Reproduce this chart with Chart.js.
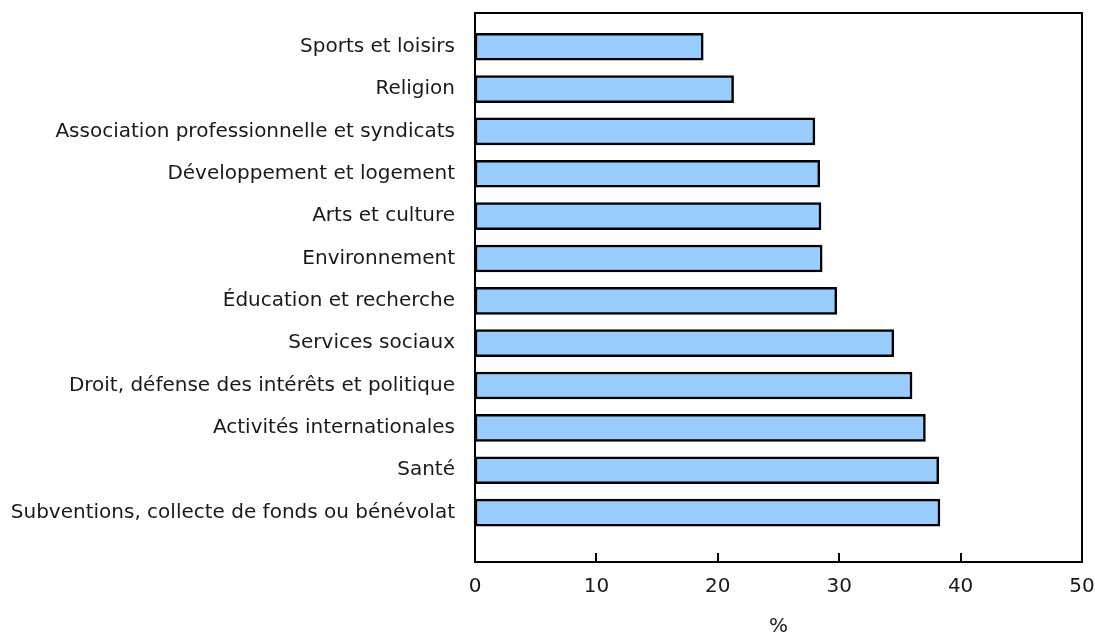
<!DOCTYPE html>
<html>
<head>
<meta charset="utf-8">
<script src="https://cdn.jsdelivr.net/npm/chart.js@4.4.1/dist/chart.umd.min.js"></script>
<style>
  html, body { margin: 0; padding: 0; background: #ffffff; }
  #wrap { width: 1095px; height: 632px; position: relative; }
</style>
</head>
<body>
<div id="wrap"><canvas id="c" width="1095" height="632"></canvas></div>
<script>
const categories = [
  "Sports et loisirs",
  "Religion",
  "Association professionnelle et syndicats",
  "Développement et logement",
  "Arts et culture",
  "Environnement",
  "Éducation et recherche",
  "Services sociaux",
  "Droit, défense des intérêts et politique",
  "Activités internationales",
  "Santé",
  "Subventions, collecte de fonds ou bénévolat"
];
const values = [18.8, 21.3, 28.0, 28.4, 28.5, 28.6, 29.8, 34.5, 36.0, 37.1, 38.2, 38.3];
const xTicks = [0, 10, 20, 30, 40, 50];
const xTitle = "%";

const FONT = "'DejaVu Sans', Verdana, sans-serif";

const framePlugin = {
  id: 'frame',
  afterDraw(chart) {
    const ctx = chart.ctx;
    const a = chart.chartArea;
    const xs = chart.scales.x;
    ctx.save();
    ctx.strokeStyle = '#000000';
    ctx.lineWidth = 2;
    ctx.strokeRect(a.left, a.top, a.right - a.left, a.bottom - a.top);
    ctx.beginPath();
    xTicks.forEach(v => {
      const px = Math.round(xs.getPixelForValue(v));
      ctx.moveTo(px, a.bottom);
      ctx.lineTo(px, a.bottom - 9);
    });
    ctx.stroke();
    ctx.restore();
  }
};

new Chart(document.getElementById('c'), {
  type: 'bar',
  data: {
    datasets: [{
      data: values.map((v, i) => ({ x: v, y: i })),
      backgroundColor: '#99ccff',
      borderColor: '#000000',
      borderWidth: 2.5,
      borderSkipped: false,
      barThickness: 27
    }]
  },
  options: {
    indexAxis: 'y',
    responsive: false,
    animation: false,
    devicePixelRatio: 1,
    layout: { padding: { top: 13, right: 13, left: 0, bottom: 0 } },
    plugins: { legend: { display: false }, tooltip: { enabled: false } },
    scales: {
      x: {
        type: 'linear',
        min: 0,
        max: 50,
        grid: { display: false },
        border: { display: false },
        afterBuildTicks: s => { s.ticks = xTicks.map(v => ({ value: v })); },
        afterFit: s => { s.height = 70; s.paddingLeft = 0; s.paddingRight = 0; },
        ticks: {
          color: '#1a1a1a',
          font: { family: FONT, size: 20 },
          padding: 5,
          maxRotation: 0
        },
        title: {
          display: true,
          text: xTitle,
          color: '#1a1a1a',
          font: { family: FONT, size: 20 },
          padding: { top: 0, bottom: -7 }
        }
      },
      y: {
        type: 'linear',
        reverse: true,
        offset: false,
        min: -0.796,
        max: 12.167,
        grid: { display: false, offset: false },
        border: { display: false },
        afterBuildTicks: s => { s.ticks = categories.map((c, i) => ({ value: i })); },
        afterFit: s => { s.width = 475; s.paddingTop = 0; s.paddingBottom = 0; },
        ticks: {
          autoSkip: false,
          color: '#1a1a1a',
          font: { family: FONT, size: 20 },
          padding: 12,
          callback: v => categories[v] ?? ''
        }
      }
    }
  },
  plugins: [framePlugin]
});
</script>
</body>
</html>
